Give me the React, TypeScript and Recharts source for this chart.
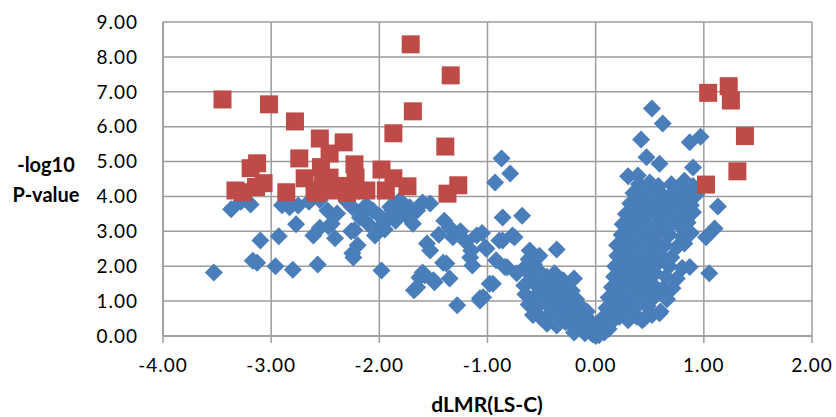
import React from 'react';
import { ScatterChart, Scatter, XAxis, YAxis, CartesianGrid, Label } from 'recharts';

const X_TICKS = [-4, -3, -2, -1, 0, 1, 2];
const Y_TICKS = [0, 1, 2, 3, 4, 5, 6, 7, 8, 9];

// significant genes (red squares)
const redPoints: [number, number][] = [
  [-1.71, 8.36], [-1.34, 7.47], [-3.45, 6.78], [-3.02, 6.64], [-2.78, 6.15], [-1.69, 6.44],
  [-2.55, 5.66], [-2.33, 5.55], [-1.87, 5.81], [-1.39, 5.43], [-2.46, 5.23], [-2.74, 5.09],
  [-3.13, 4.95], [-3.19, 4.81], [-2.23, 4.92], [-2.54, 4.84], [-1.98, 4.77], [-1.87, 4.52],
  [-1.74, 4.29], [-1.27, 4.32], [-1.37, 4.08], [-3.07, 4.38], [-3.33, 4.17], [-3.26, 4.12],
  [-3.14, 4.27], [-2.86, 4.12], [-2.69, 4.52], [-2.6, 4.17], [-2.46, 4.54], [-2.43, 4.17],
  [-2.26, 4.17], [-2.22, 4.54], [-2.12, 4.17], [-1.94, 4.17], [-2.52, 4.35], [-2.35, 4.3],
  [-2.58, 4.1], [-2.3, 4.1],
  [1.04, 6.97], [1.23, 7.16], [1.25, 6.75], [1.38, 5.73], [1.31, 4.72], [1.02, 4.34],
];

// left arm, x < -1.5
const blueFarLeft: [number, number][] = [
  [-3.53, 1.82], [-3.17, 2.16], [-3.13, 2.1], [-3.1, 2.74], [-2.96, 2.0], [-2.8, 1.9],
  [-2.93, 2.86], [-2.77, 3.2], [-2.61, 2.88], [-2.57, 2.05], [-3.37, 3.63], [-3.19, 3.77],
  [-3.28, 3.85], [-2.83, 3.69], [-2.75, 3.74], [-2.47, 3.14], [-2.41, 2.8], [-2.44, 3.22],
  [-2.39, 3.51], [-2.25, 3.69], [-2.25, 2.37], [-2.2, 2.6], [-2.26, 3.0], [-2.24, 2.25],
  [-2.23, 3.03], [-2.04, 2.88], [-1.98, 3.17], [-2.18, 3.4], [-2.06, 3.6], [-1.93, 3.31],
  [-1.81, 3.51], [-1.69, 3.22], [-1.72, 3.69], [-1.81, 3.89], [-1.6, 3.83], [-1.53, 3.8],
  [-2.48, 3.6], [-2.12, 3.75], [-2.0, 3.45], [-1.9, 3.7], [-1.85, 3.3], [-1.75, 3.45],
  [-1.65, 3.6], [-2.1, 3.2], [-1.95, 3.05], [-1.98, 1.88], [-1.68, 1.31], [-1.63, 1.68],
  [-1.56, 2.65], [-1.53, 2.45], [-1.58, 1.74], [-1.6, 1.82], [-1.65, 1.4], [-2.3, 3.85],
  [-2.55, 3.9], [-2.65, 3.85], [-2.9, 3.75], [-2.55, 3.1], [-2.15, 3.55], [-1.88, 3.6],
];

// middle, -1.5 < x < -0.6
const blueMiddle: [number, number][] = [
  [-1.49, 1.54], [-1.35, 1.65], [-1.38, 2.08], [-1.28, 0.88], [-1.07, 1.02], [-1.14, 2.02],
  [-1.35, 3.11], [-1.32, 2.83], [-1.2, 2.7], [-1.1, 2.88], [-1.15, 2.45], [-1.01, 2.5],
  [-0.89, 2.74], [-0.77, 2.88], [-0.92, 2.17], [-0.98, 1.5], [-0.82, 1.97], [-1.5, 1.6],
  [-1.16, 2.25], [-1.41, 2.1], [-1.07, 1.08], [-0.87, 5.09], [-0.79, 4.66], [-0.93, 4.4],
  [-0.86, 3.4], [-0.68, 3.45], [-0.36, 2.48], [-0.86, 2.74], [-0.75, 2.83], [-1.02, 2.54],
  [-1.05, 2.95], [-0.61, 2.45], [-0.84, 1.98], [-0.95, 1.5], [-0.73, 1.8], [-1.04, 1.11],
  [-1.25, 3.0], [-1.4, 3.3], [-1.45, 2.9],
];

// descending side of the V
const blueVLeft: [number, number][] = [
  [-0.62, 2.2], [-0.57, 2.05], [-0.52, 2.3], [-0.66, 1.95],
  [-0.6, 1.75], [-0.52, 1.85], [-0.45, 1.7], [-0.38, 1.8], [-0.3, 1.6], [-0.2, 1.65],
  [-0.66, 1.45], [-0.58, 1.55], [-0.5, 1.4], [-0.42, 1.5], [-0.35, 1.35], [-0.28, 1.45], [-0.22, 1.3],
  [-0.65, 1.2], [-0.57, 1.1], [-0.48, 1.25], [-0.4, 1.15], [-0.32, 1.1], [-0.25, 1.2], [-0.18, 1.05],
  [-0.62, 0.9], [-0.55, 0.8], [-0.46, 0.95], [-0.38, 0.85], [-0.3, 0.9], [-0.22, 0.8], [-0.14, 0.85], [-0.08, 0.7],
  [-0.58, 0.6], [-0.5, 0.5], [-0.42, 0.65], [-0.34, 0.55], [-0.26, 0.6], [-0.18, 0.5], [-0.1, 0.55], [-0.04, 0.4],
  [-0.45, 0.35], [-0.36, 0.3], [-0.28, 0.4], [-0.2, 0.25], [-0.12, 0.3], [-0.06, 0.2], [0.0, 0.3],
  [-0.2, 0.1], [-0.1, 0.08], [-0.03, 0.05], [0.03, 0.02], [0.0, 0.0],
];

// rising side of the V
const blueVRight: [number, number][] = [
  [0.02, 0.15], [0.05, 0.25], [0.08, 0.1], [0.1, 0.3], [0.12, 0.2],
  [0.06, 0.5], [0.1, 0.45], [0.14, 0.6], [0.18, 0.5], [0.22, 0.55], [0.3, 0.45], [0.38, 0.55], [0.45, 0.5], [0.52, 0.6],
  [0.1, 0.8], [0.15, 0.75], [0.2, 0.85], [0.25, 0.8], [0.3, 0.9], [0.35, 0.75], [0.48, 0.85], [0.6, 0.7],
  [0.12, 1.1], [0.17, 1.0], [0.22, 1.15], [0.28, 1.05], [0.33, 1.2], [0.4, 1.1], [0.5, 1.0], [0.55, 1.15], [0.66, 1.05],
  [0.15, 1.4], [0.2, 1.35], [0.26, 1.5], [0.32, 1.4], [0.38, 1.45], [0.44, 1.3], [0.52, 1.5], [0.62, 1.35], [0.71, 1.37],
  [0.17, 1.7], [0.22, 1.65], [0.28, 1.8], [0.34, 1.7], [0.4, 1.75], [0.47, 1.6], [0.55, 1.8], [0.65, 1.7], [0.75, 1.65],
  [0.18, 2.0], [0.24, 1.95], [0.3, 2.1], [0.36, 2.0], [0.42, 2.05], [0.5, 1.9], [0.58, 2.1], [0.68, 2.0], [0.8, 1.95], [0.87, 1.98],
  [0.2, 2.3], [0.26, 2.25], [0.33, 2.35], [0.4, 2.3], [0.46, 2.2], [0.53, 2.4], [0.6, 2.3], [0.7, 2.25],
  [0.2, 2.6], [0.28, 2.55], [0.35, 2.65], [0.42, 2.6], [0.5, 2.5], [0.56, 2.7], [0.64, 2.6], [0.75, 2.55], [0.82, 2.65],
  [0.24, 2.9], [0.3, 2.85], [0.37, 2.95], [0.45, 2.9], [0.52, 2.8], [0.6, 3.0], [0.68, 2.9], [0.8, 2.85], [0.88, 2.95],
  [0.25, 3.2], [0.32, 3.15], [0.4, 3.25], [0.47, 3.2], [0.55, 3.1], [0.62, 3.3], [0.7, 3.2], [0.78, 3.15], [0.85, 3.25],
  [0.28, 3.5], [0.35, 3.45], [0.42, 3.55], [0.5, 3.5], [0.58, 3.4], [0.66, 3.6], [0.74, 3.5], [0.82, 3.45], [0.9, 3.55],
  [0.32, 3.8], [0.38, 3.75], [0.46, 3.85], [0.55, 3.8], [0.62, 3.7], [0.72, 3.9], [0.8, 3.8], [0.88, 3.75],
  [0.35, 4.1], [0.42, 4.05], [0.5, 4.15], [0.6, 4.1], [0.68, 4.0], [0.78, 4.2], [0.85, 4.1], [0.93, 4.05],
  [0.4, 4.35], [0.5, 4.4], [0.58, 4.3], [0.7, 4.35], [0.82, 4.45], [0.9, 4.3],
  [0.52, 6.52], [0.62, 6.09], [0.42, 5.63], [0.87, 5.55], [0.97, 5.71], [0.47, 5.12], [0.59, 4.94],
  [0.9, 4.83], [0.3, 4.58], [0.39, 4.6], [1.05, 1.8], [0.59, 0.65], [0.43, 0.45], [1.02, 2.83],
  [1.1, 3.08], [1.13, 3.71], [0.2, 2.6],
];

const toXY = (pts: [number, number][]) => pts.map(([x, y]) => ({ x, y }));
const blueData = toXY([...blueFarLeft, ...blueMiddle, ...blueVLeft, ...blueVRight]);
const redData = toXY(redPoints);

const GRID = '#9C9C9C';
const FONT = 'Lato, "Open Sans", sans-serif';

const Diamond = (props: any) => {
  const { cx, cy } = props;
  const r = 9;
  return <polygon points={`${cx},${cy - r} ${cx + r},${cy} ${cx},${cy + r} ${cx - r},${cy}`} fill="#4A7EBB" />;
};

const Square = (props: any) => {
  const { cx, cy } = props;
  return <rect x={cx - 9} y={cy - 9} width={18} height={18} fill="#BE4B48" />;
};

const YTitle = () => (
  <text fontFamily={FONT} fontSize={20} fontWeight="bold" fill="#000" textAnchor="middle">
    <tspan x={46} y={172}>-log10</tspan>
    <tspan x={46} y={202}>P-value</tspan>
  </text>
);

const XTitle = () => (
  <text x={487} y={412} fontFamily={FONT} fontSize={21} fontWeight="bold" fill="#000" textAnchor="middle">
    dLMR(LS-C)
  </text>
);

export default function App() {
  const tick = { fontFamily: FONT, fontSize: 19, fill: '#000', letterSpacing: 1 };
  return (
    <div style={{ position: 'absolute', left: 0, top: 0, width: 836, height: 417, background: '#fff' }}>
      <ScatterChart width={836} height={417} margin={{ top: 22, right: 24, left: 0, bottom: 0 }}>
        <CartesianGrid stroke={GRID} strokeWidth={1.5} horizontalValues={Y_TICKS} verticalValues={X_TICKS} />
        <XAxis
          type="number"
          dataKey="x"
          domain={[-4, 2]}
          ticks={X_TICKS}
          interval={0}
          tickFormatter={(v: number) => v.toFixed(2)}
          stroke={GRID}
          strokeWidth={1.5}
          tickSize={7}
          tickMargin={16}
          height={81}
          tick={tick}
        >
          <Label content={<XTitle />} />
        </XAxis>
        <YAxis
          type="number"
          dataKey="y"
          domain={[0, 9]}
          ticks={Y_TICKS}
          interval={0}
          tickFormatter={(v: number) => v.toFixed(2)}
          stroke={GRID}
          strokeWidth={1.5}
          tickLine={false}
          tickSize={0}
          tickMargin={25}
          width={163}
          tick={tick}
        >
          <Label content={<YTitle />} />
        </YAxis>
        <Scatter data={blueData} shape={<Diamond />} isAnimationActive={false} />
        <Scatter data={redData} shape={<Square />} isAnimationActive={false} />
      </ScatterChart>
    </div>
  );
}
